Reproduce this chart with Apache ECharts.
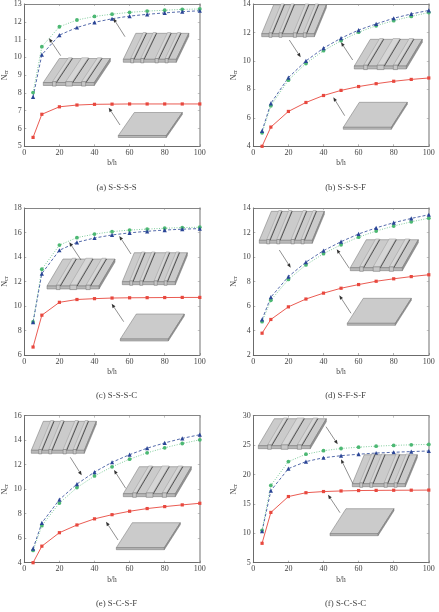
<!DOCTYPE html>
<html>
<head>
<meta charset="utf-8">
<script src="https://cdn.jsdelivr.net/npm/echarts@6/dist/echarts.min.js"></script>
<style>html,body{margin:0;padding:0;background:#fff}#chart{width:439px;height:612px}</style>
</head>
<body>
<div id="chart"></div>
<script>
// Slenderness ratios shared by all six boundary-condition panels
const bh = [5, 10, 20, 30, 40, 50, 60, 70, 80, 90, 100];

// Critical buckling load: flat plate, and the two stiffened layouts
const flatA = [5.5, 6.8, 7.22, 7.32, 7.36, 7.37, 7.38, 7.38, 7.38, 7.38, 7.38];
const greenA = [8.02, 10.6, 11.72, 12.1, 12.3, 12.43, 12.53, 12.6, 12.65, 12.7, 12.72];
const blueA = [7.78, 10.15, 11.25, 11.68, 11.97, 12.17, 12.32, 12.42, 12.5, 12.57, 12.62];

const flatB = [4.0, 5.35, 6.45, 7.08, 7.57, 7.93, 8.2, 8.4, 8.57, 8.7, 8.8];
const greenB = [4.95, 6.85, 8.65, 9.82, 10.72, 11.42, 12.02, 12.47, 12.83, 13.13, 13.4];
const blueB = [5.08, 7.02, 8.83, 10.0, 10.9, 11.6, 12.17, 12.6, 13.0, 13.3, 13.55];

const flatC = [6.65, 9.25, 10.3, 10.53, 10.6, 10.65, 10.67, 10.68, 10.69, 10.7, 10.7];
const greenC = [8.7, 13.0, 14.97, 15.58, 15.87, 16.07, 16.2, 16.28, 16.35, 16.4, 16.43];
const blueC = [8.68, 12.65, 14.55, 15.2, 15.55, 15.8, 15.97, 16.1, 16.2, 16.27, 16.32];

const flatD = [3.78, 4.9, 5.93, 6.57, 7.05, 7.45, 7.75, 8.02, 8.22, 8.4, 8.55];
const greenD = [4.72, 6.47, 8.17, 9.35, 10.27, 11.0, 11.62, 12.12, 12.53, 12.87, 13.17];
const blueD = [4.9, 6.72, 8.4, 9.58, 10.52, 11.25, 11.88, 12.38, 12.8, 13.15, 13.45];

const flatE = [4.0, 5.35, 6.45, 7.08, 7.58, 7.92, 8.2, 8.42, 8.58, 8.72, 8.85];
const greenE = [5.0, 7.02, 8.87, 10.13, 11.08, 11.83, 12.45, 12.97, 13.38, 13.73, 14.03];
const blueE = [5.15, 7.25, 9.15, 10.42, 11.4, 12.2, 12.82, 13.35, 13.78, 14.15, 14.45];

const flatF = [8.3, 13.55, 16.25, 16.9, 17.1, 17.2, 17.27, 17.3, 17.32, 17.33, 17.35];
const greenF = [10.5, 18.15, 22.2, 23.45, 24.05, 24.42, 24.65, 24.82, 24.95, 25.05, 25.12];
const blueF = [10.35, 17.25, 21.0, 22.2, 22.85, 23.2, 23.45, 23.65, 23.78, 23.9, 24.0];

const captions = ['(a) S-S-S-S', '(b) S-S-S-F', '(c) S-S-S-C', '(d) S-F-S-F', '(e) S-C-S-F', '(f) S-C-S-C'];

const panels = [
  { left: 24.3, top: -0.7, min: 5, max: 13, step: 1, flat: flatA, green: greenA, blue: blueA, capY: 183 },
  { left: 253.3, top: -0.7, min: 4, max: 14, step: 2, flat: flatB, green: greenB, blue: blueB, capY: 183 },
  { left: 24.3, top: 208, min: 6, max: 18, step: 2, flat: flatC, green: greenC, blue: blueC, capY: 391 },
  { left: 253.3, top: 208, min: 2, max: 14, step: 2, flat: flatD, green: greenD, blue: blueD, capY: 391 },
  { left: 24.3, top: 415.7, min: 4, max: 16, step: 2, flat: flatE, green: greenE, blue: blueE, capY: 599 },
  { left: 253.3, top: 415.7, min: 5, max: 30, step: 5, flat: flatF, green: greenF, blue: blueF, capY: 599 }
];
const PW = 175.5, PH = 147;

// Rib layouts of the stiffened plates: [start, width] as fractions of plate width
const threeRibs = [[0.18, 0.07], [0.44, 0.13], [0.75, 0.08]];
const fourRibs = [[0.14, 0.055], [0.33, 0.055], [0.60, 0.06], [0.79, 0.055]];

// Plate sketches: front-left x, front-bottom y, width, skew, depth, ribs
const sketches = [
  [43.3, 85.5, 51, 16, 24, threeRibs], [123.3, 62.3, 53, 12.5, 26, fourRibs], [118.3, 137.5, 48, 16, 23, null],
  [261.7, 36.7, 52.7, 12, 29, fourRibs], [354.3, 69, 52, 16, 26.7, threeRibs], [343.3, 129.3, 48, 16, 25, null],
  [47, 289, 52, 16, 27, threeRibs], [122.3, 284.7, 53, 12, 29, fourRibs], [120.3, 341, 48, 16, 25, null],
  [259.3, 243.3, 53, 12, 29, fourRibs], [350.3, 270.7, 52, 16, 28, threeRibs], [347.3, 325.3, 48, 16, 25, null],
  [31.3, 453.3, 53, 12, 29, fourRibs], [123.3, 496.7, 52, 16, 27, threeRibs], [116.3, 549.7, 48, 16, 25, null],
  [258.3, 448.7, 52, 16, 27, threeRibs], [352.3, 486.7, 53, 12, 29, fourRibs], [330, 535.7, 48, 16, 25, null]
];

// Pointers from sketches to curves: tail x, tail y, head x, head y
const pointers = [
  [60.7, 55.7, 49, 38.3], [125, 36.7, 113.3, 18.3], [120, 125, 108.7, 107.7],
  [289.3, 40, 300.7, 57.3], [352.7, 60, 341, 42.3], [344.7, 115.7, 333.3, 97.3],
  [81, 260, 69.3, 242.3], [131, 254, 119.3, 236], [123.7, 321.7, 111.7, 303.7],
  [279.3, 250, 290.7, 267.7], [349.3, 268.3, 336.7, 249.3], [351, 313.3, 339.3, 295.3],
  [70.3, 457.3, 81.7, 475.3], [125.7, 488.3, 114, 470], [118, 540, 106, 521.7],
  [326, 426.7, 337.7, 444.3], [352.7, 483.3, 341, 459.3], [340, 512.7, 328, 494.7]
];

const serif = '"Liberation Serif","DejaVu Serif",serif';
const inkText = '#444444';

function poly(points, fill, stroke, lw, z) {
  return { type: 'polygon', z: z || 20, silent: true,
    shape: { points: points },
    style: { fill: fill, stroke: stroke || null, lineWidth: lw === undefined ? 0.5 : lw } };
}

// One plate in oblique projection, with its ribs when it has any
function plateSketch(x, y, w, skew, depth, ribs) {
  const t = ribs ? 3 : 2;
  const top = y - t;
  const out = [];
  out.push(poly([[x, top], [x + skew, top - depth], [x + w + skew, top - depth], [x + w, top]], '#cbcbcb', '#707070'));
  out.push(poly([[x + w, top], [x + w + skew, top - depth], [x + w + skew, top - depth + t], [x + w, y]], '#949494', '#707070'));
  out.push(poly([[x, top], [x + w, top], [x + w, y], [x, y]], '#b8b8b8', '#707070'));
  (ribs || []).forEach(function (r) {
    const a = x + r[0] * w, b = a + r[1] * w;
    const raise = 0.8;
    out.push(poly([[a, top - raise], [a + skew, top - depth - raise], [b + skew, top - depth - raise], [b, top - raise]], '#d6d6d6', '#8a8a8a', 0.4, 21));
    out.push({ type: 'line', z: 22, silent: true,
      shape: { x1: b + 0.4, y1: top, x2: b + skew + 0.4, y2: top - depth },
      style: { stroke: '#333', lineWidth: 0.8 } });
    out.push(poly([[a, top - raise], [b, top - raise], [b, y + 0.6], [a, y + 0.6]], '#c8c8c8', '#707070', 0.5, 23));
  });
  return out;
}

// Thin pointer with a solid head
function pointer(x1, y1, x2, y2) {
  const ang = Math.atan2(y2 - y1, x2 - x1), len = 4.2, half = 1.7;
  const bx = x2 - Math.cos(ang) * len, by = y2 - Math.sin(ang) * len;
  const nx = -Math.sin(ang) * half, ny = Math.cos(ang) * half;
  return [
    { type: 'line', z: 24, silent: true, shape: { x1: x1, y1: y1, x2: bx, y2: by }, style: { stroke: '#444', lineWidth: 0.6 } },
    poly([[x2, y2], [bx + nx, by + ny], [bx - nx, by - ny]], '#333', null, 0, 24)
  ];
}

const grid = [], xAxis = [], yAxis = [], series = [], title = [];

panels.forEach(function (p, i) {
  grid.push({ left: p.left, top: p.top, width: PW, height: PH });
  const baseX = { type: 'value', gridIndex: i, min: 0, max: 100, interval: 20, splitLine: { show: false } };
  const baseY = { type: 'value', gridIndex: i, min: p.min, max: p.max, interval: p.step, splitLine: { show: false } };
  xAxis.push(Object.assign({}, baseX, {
    position: 'bottom', name: 'b/h', nameLocation: 'middle', nameGap: 13,
    nameTextStyle: { fontFamily: serif, fontSize: 7.5, color: inkText },
    axisLine: { onZero: false, lineStyle: { color: '#5a5a5a', width: 0.9 } },
    axisTick: { inside: true, length: 2, lineStyle: { color: '#666', width: 0.5 } },
    axisLabel: { fontFamily: serif, fontSize: 8, color: inkText, margin: 2.5 }
  }));
  xAxis.push(Object.assign({}, baseX, {
    position: 'top',
    axisLine: { onZero: false, lineStyle: { color: '#777', width: 0.9 } },
    axisTick: { inside: true, length: 2, lineStyle: { color: '#888', width: 0.5 } },
    axisLabel: { show: false }
  }));
  yAxis.push(Object.assign({}, baseY, {
    position: 'left', name: '{n|N}{s|cr}', nameLocation: 'middle', nameRotate: 90, nameGap: 13,
    nameTextStyle: { color: inkText, rich: {
      n: { fontFamily: serif, fontSize: 8, color: inkText },
      s: { fontFamily: serif, fontSize: 6, color: inkText, verticalAlign: 'bottom', padding: [3, 0, 0, 0] }
    } },
    axisLine: { onZero: false, lineStyle: { color: '#5a5a5a', width: 0.9 } },
    axisTick: { inside: true, length: 2, lineStyle: { color: '#666', width: 0.5 } },
    axisLabel: { fontFamily: serif, fontSize: 8, color: inkText, margin: 2.5 }
  }));
  yAxis.push(Object.assign({}, baseY, {
    position: 'right',
    axisLine: { onZero: false, lineStyle: { color: '#a6a6a6', width: 1.6 } },
    axisTick: { inside: true, length: 2, lineStyle: { color: '#888', width: 0.5 } },
    axisLabel: { show: false }
  }));

  const pairs = function (vals) { return vals.map(function (v, k) { return [bh[k], v]; }); };
  const addLine = function (vals, color, width, type, symbol, size) {
    series.push({ type: 'line', xAxisIndex: i * 2, yAxisIndex: i * 2, data: pairs(vals),
      clip: false, silent: true, animation: false,
      lineStyle: { color: color, width: width, type: type },
      symbol: symbol, symbolSize: size, showSymbol: true,
      itemStyle: { color: color, borderWidth: 0 } });
  };
  addLine(p.flat, '#e8483e', 0.9, 'solid', 'rect', 3.2);
  addLine(p.green, '#4cb873', 0.7, [1, 1.5], 'circle', 3.8);
  addLine(p.blue, '#2a4596', 0.8, [3, 2], 'triangle', 4.2);

  title.push({ text: captions[i], left: p.left + PW / 2 - 0.5, top: p.capY - 5, textAlign: 'center',
    textStyle: { fontFamily: serif, fontSize: 8.8, fontWeight: 'normal', color: inkText } });
});

const graphic = [];
sketches.forEach(function (s) { graphic.push.apply(graphic, plateSketch(s[0], s[1], s[2], s[3], s[4], s[5])); });
pointers.forEach(function (a) { graphic.push.apply(graphic, pointer(a[0], a[1], a[2], a[3])); });

const chart = echarts.init(document.getElementById('chart'), null, { renderer: 'canvas' });
chart.setOption({ backgroundColor: '#fff', animation: false, title: title, grid: grid, xAxis: xAxis, yAxis: yAxis, series: series, graphic: graphic });
</script>
</body>
</html>
